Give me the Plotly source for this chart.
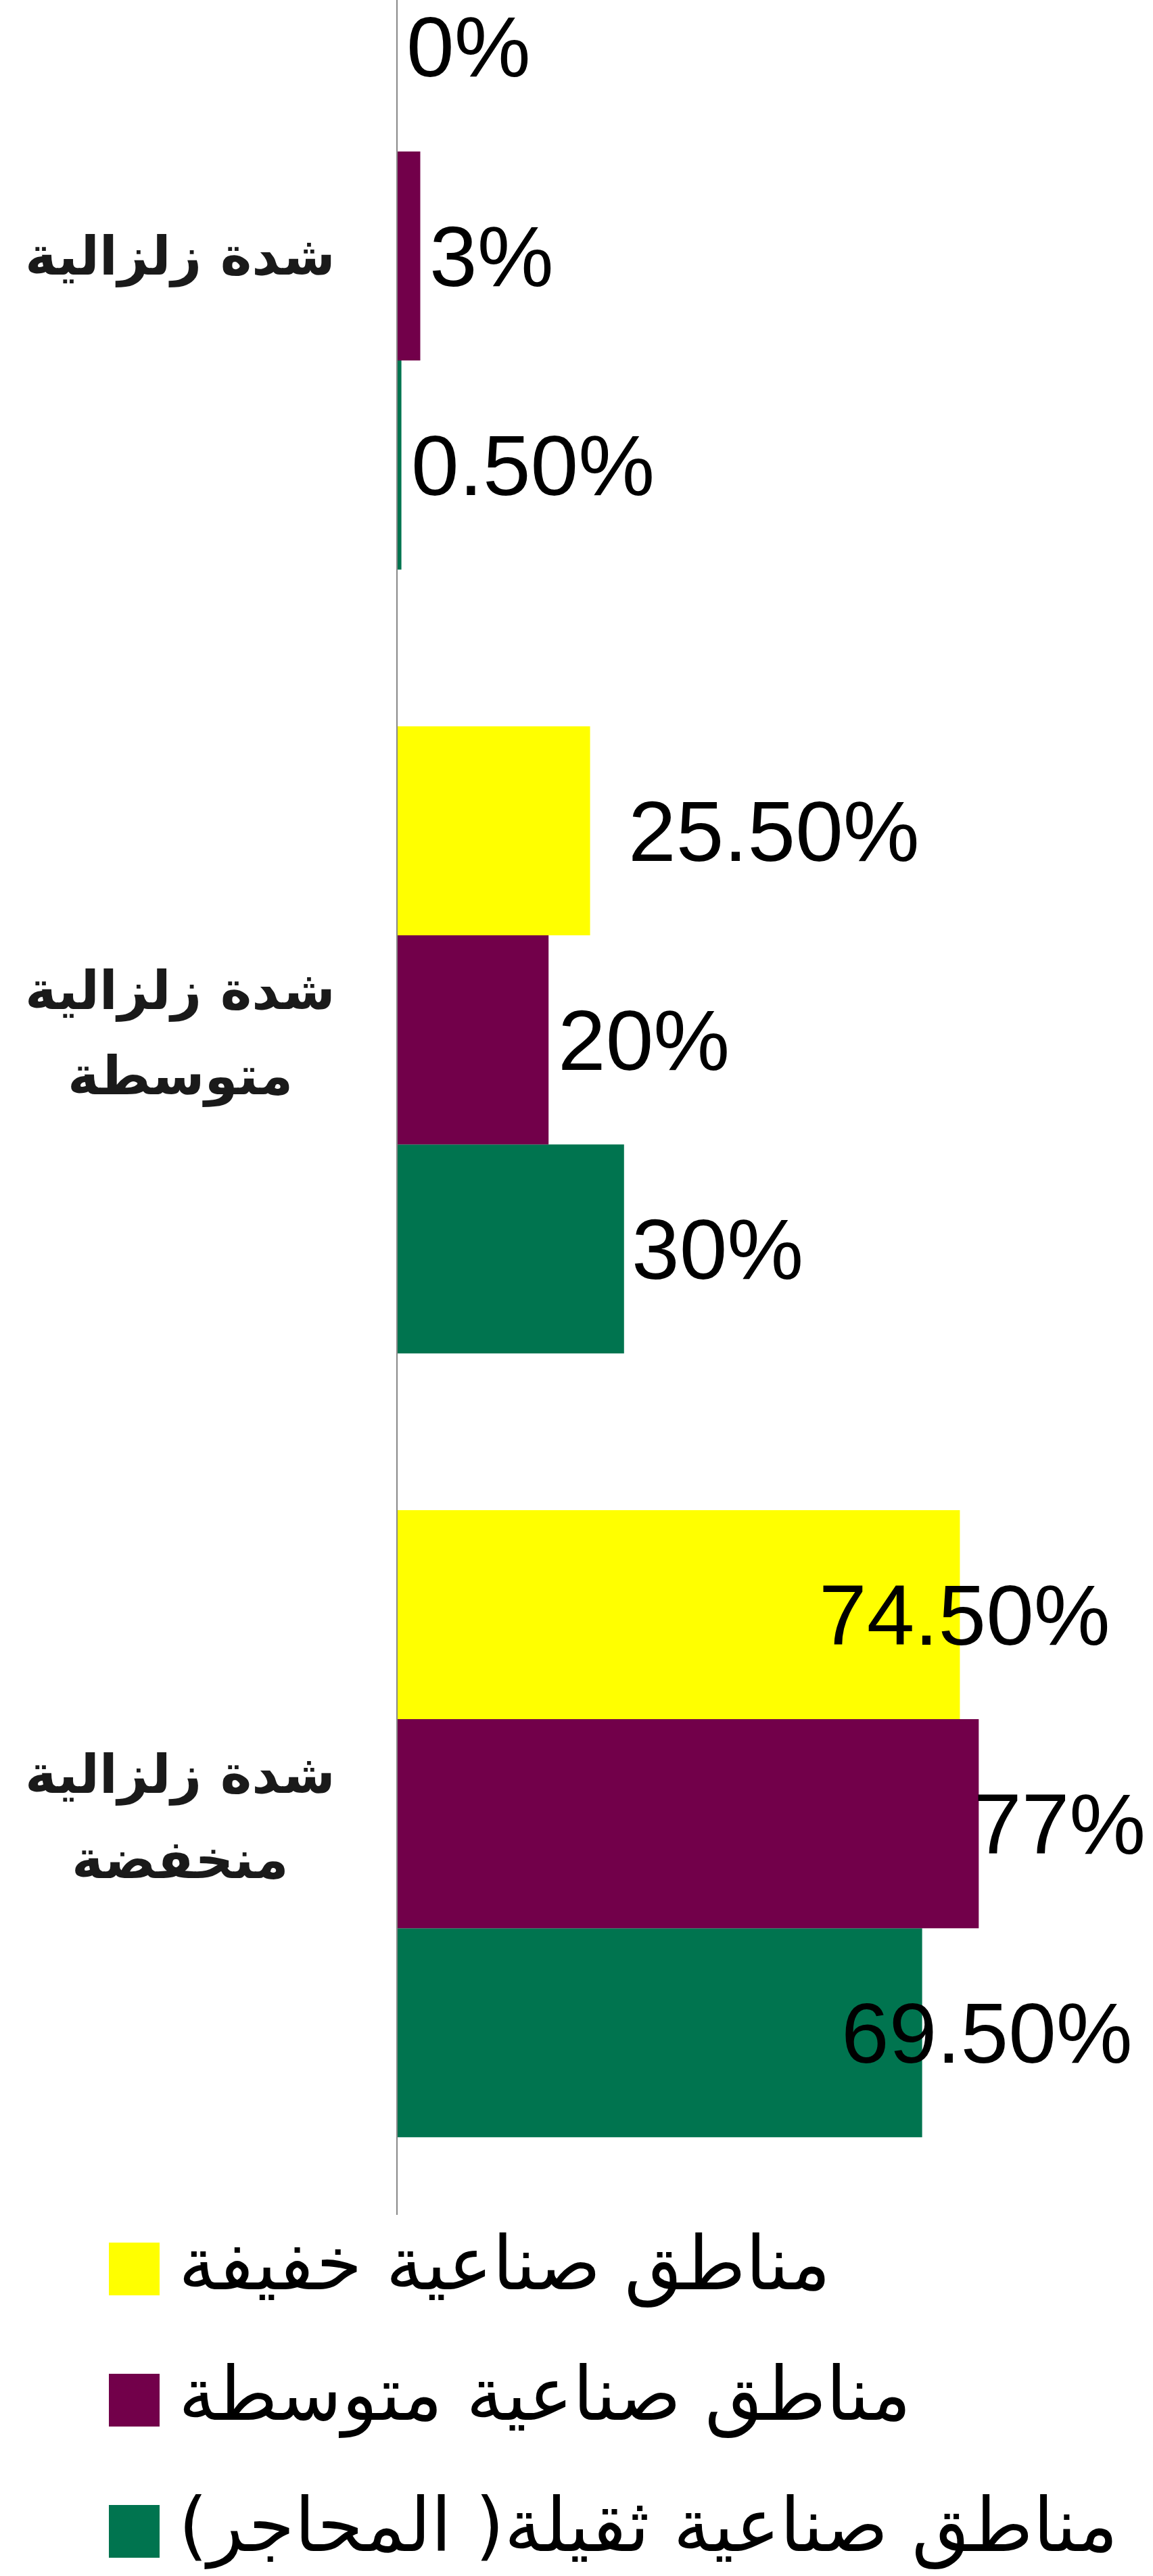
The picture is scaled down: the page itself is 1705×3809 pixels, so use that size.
import plotly.graph_objects as go

# Seismic intensity classes (top to bottom as drawn)
categories = ["شدة زلزالية", "شدة زلزالية<br>متوسطة", "شدة زلزالية<br>منخفضة"]

# Share of each industrial-zone type per intensity class (%)
series_names = [
    "مناطق صناعية خفيفة",
    "مناطق صناعية متوسطة",
    "مناطق صناعية ثقيلة( المحاجر)",
]
light_zones = [0, 25.5, 74.5]
medium_zones = [3, 20, 77]
heavy_zones = [0.5, 30, 69.5]

series_values = [light_zones, medium_zones, heavy_zones]
series_colors = ["#FFFF00", "#72004A", "#00744F"]

# horizontal nudges (px) for the value labels, per series / category
label_shifts = [
    [11, 54, -210],
    [12, 12, -9],
    [12, 9, -122],
]

W, H = 1705, 3809
ML, MR, MT, MB = 588, 0, 0, 534
PW, PH = W - ML - MR, H - MT - MB


def px_to_paper_x(px):
    return (px - ML) / PW


def px_to_paper_y(py):
    return 1 - (py - MT) / PH


def fmt(v):
    return f"{int(v)}%" if float(v).is_integer() else f"{v:.2f}%"


# bottom-to-top order on the category axis
cat_order = list(reversed(categories))

fig = go.Figure()

# first trace sits lowest inside each group -> add heavy, medium, light
n = len(series_names)
for k in reversed(range(n)):
    fig.add_trace(
        go.Bar(
            y=categories,
            x=series_values[k],
            name=series_names[k],
            orientation="h",
            marker=dict(color=series_colors[k], line=dict(width=0)),
            showlegend=False,
            hoverinfo="x+name",
        )
    )

group_width = 0.8
slot = group_width / n
annotations = []

# value labels
for k in range(n):
    pos_in_group = n - 1 - k  # 0 = bottom slot
    offset = -group_width / 2 + slot * (pos_in_group + 0.5)
    for j, cat in enumerate(categories):
        v = series_values[k][j]
        annotations.append(
            dict(
                x=v,
                y=cat_order.index(cat) + offset,
                xref="x",
                yref="y",
                text=fmt(v),
                showarrow=False,
                xanchor="left",
                yanchor="middle",
                height=112,
                valign="middle",
                xshift=label_shifts[k][j],
                font=dict(family="Liberation Sans, Arial, sans-serif", size=127, color="#000000"),
            )
        )

# category labels, each line centred to the left of the axis
line_pitch = 126
for cat in categories:
    lines = cat.split("<br>")
    m = len(lines)
    base = 10 if m > 1 else 0
    for i, line in enumerate(lines):
        annotations.append(
            dict(
                x=px_to_paper_x(266),
                y=cat_order.index(cat),
                xref="paper",
                yref="y",
                text=line,
                showarrow=False,
                xanchor="center",
                yanchor="middle",
                yshift=base + line_pitch * ((m - 1) / 2 - i),
                font=dict(family="DejaVu Sans, sans-serif", size=79, color="#1a1a1a", weight="bold"),
            )
        )

# legend: colour squares and series names
shapes = []
legend_top = 3316
legend_step = 194
sq_w, sq_h = 75, 78
for k in range(n):
    top = legend_top + k * legend_step
    shapes.append(
        dict(
            type="rect",
            xref="paper",
            yref="paper",
            x0=px_to_paper_x(161),
            x1=px_to_paper_x(161 + sq_w),
            y0=px_to_paper_y(top + sq_h),
            y1=px_to_paper_y(top),
            fillcolor=series_colors[k],
            line=dict(width=0),
        )
    )
    annotations.append(
        dict(
            x=px_to_paper_x(262),
            y=px_to_paper_y(top + sq_h / 2 - 8),
            xref="paper",
            yref="paper",
            text=series_names[k] + "\u200f",
            showarrow=False,
            xanchor="left",
            yanchor="middle",
            font=dict(family="DejaVu Sans, sans-serif", size=110, color="#000000"),
        )
    )

fig.update_layout(
    width=W,
    height=H,
    margin=dict(l=ML, r=MR, t=MT, b=MB, pad=0),
    paper_bgcolor="#FFFFFF",
    plot_bgcolor="#FFFFFF",
    barmode="group",
    bargap=0.2,
    bargroupgap=0,
    showlegend=False,
    annotations=annotations,
    shapes=shapes,
    xaxis=dict(
        range=[0, PW / 11.16],
        showgrid=False,
        zeroline=False,
        showline=False,
        showticklabels=False,
        ticks="",
        fixedrange=True,
    ),
    yaxis=dict(
        type="category",
        categoryorder="array",
        categoryarray=cat_order,
        range=[-0.499, 2.3266],
        showgrid=False,
        zeroline=False,
        showline=True,
        linecolor="#888888",
        linewidth=2,
        showticklabels=False,
        ticks="",
        fixedrange=True,
    ),
)

fig.write_html("out.html")
